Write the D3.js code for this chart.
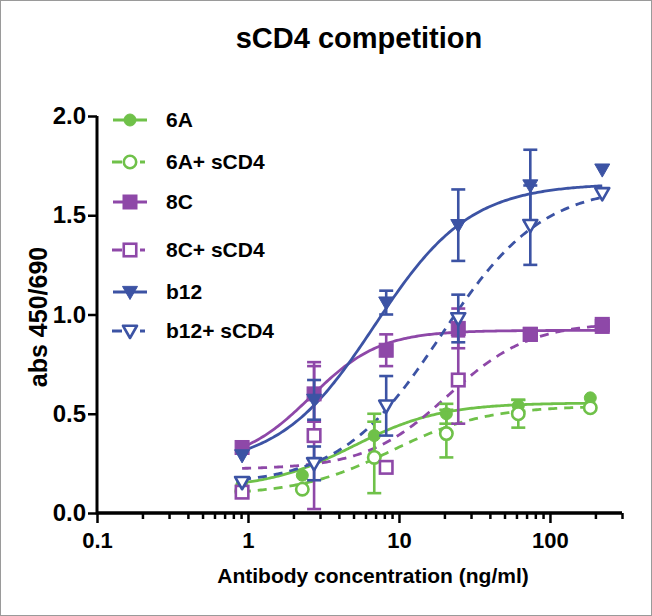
<!DOCTYPE html>
<html><head><meta charset="utf-8">
<script src="https://cdn.jsdelivr.net/npm/d3@7"></script>
<style>body{margin:0;background:#fff}svg{display:block}text{font-family:"Liberation Sans",Arial,sans-serif;font-weight:bold;fill:#000}</style>
</head><body>
<script>
// ---- data ----
const seriesNames = ["6A", "6A+ sCD4", "8C", "8C+ sCD4", "b12", "b12+ sCD4"];
const conc6A = [0.91, 2.29, 6.86, 20.6, 61.7, 185];
const concOther = [0.914, 2.74, 8.23, 24.7, 74.1, 222];
const val6A = [0.14, 0.19, 0.39, 0.50, 0.54, 0.58];
const err6A = [0, 0, 0.11, 0.05, 0.03, 0];
const val6AsCD4 = [0.11, 0.12, 0.28, 0.40, 0.50, 0.53];
const err6AsCD4 = [0, 0, 0.18, 0.12, 0.07, 0];
const val8C = [0.33, 0.60, 0.82, 0.93, 0.90, 0.94];
const err8C = [0, 0.14, 0.08, 0.10, 0, 0];
const val8CsCD4 = [0.105, 0.39, 0.23, 0.67, 0.90, 0.95];
const err8CsCD4 = [0, 0.37, 0, 0.22, 0, 0];
const valB12 = [0.29, 0.57, 1.06, 1.45, 1.65, 1.73];
const errB12 = [0, 0.10, 0.06, 0.18, 0.18, 0];
const valB12sCD4 = [0.155, 0.25, 0.54, 0.98, 1.45, 1.61];
const errB12sCD4 = [0, 0.085, 0.15, 0.12, 0.20, 0];
// fitted 4PL curve parameters
const fitBottom = [0.12, 0.09, 0.25, 0.22, 0.23, 0.14];
const fitTop = [0.555, 0.54, 0.92, 0.96, 1.66, 1.65];
const fitEC50 = [5, 9, 2.6, 21, 6.9, 19];
const fitHill = [1.5, 1.4, 1.9, 1.6, 1.38, 1.3];
const xTickLabels = ["0.1", "1", "10", "100"];
const yTickLabels = ["0.0", "0.5", "1.0", "1.5", "2.0"];

const green = "#6fc149", purple = "#8e48a8", blue = "#3c53a4";
const styles = [
  {color: green, sym: "circle", fill: true, dash: null},
  {color: green, sym: "circle", fill: false, dash: "9,7"},
  {color: purple, sym: "square", fill: true, dash: null},
  {color: purple, sym: "square", fill: false, dash: "9,7"},
  {color: blue, sym: "tri", fill: true, dash: null},
  {color: blue, sym: "tri", fill: false, dash: "9,7"}
];
const series = [
  {x: conc6A, v: val6A, e: err6A},
  {x: conc6A, v: val6AsCD4, e: err6AsCD4},
  {x: concOther, v: val8C, e: err8C},
  {x: concOther, v: val8CsCD4, e: err8CsCD4},
  {x: concOther, v: valB12, e: errB12},
  {x: concOther, v: valB12sCD4, e: errB12sCD4}
];
const drawOrder = [0, 1, 3, 2, 4, 5];

const W = 652, H = 616;
const FONT = '"Liberation Sans",Arial,sans-serif';
const svg = d3.select("body").append("svg").attr("width", W).attr("height", H);
svg.append("rect").attr("x", 0.5).attr("y", 0.5).attr("width", W - 1).attr("height", H - 1)
  .attr("fill", "#fff").attr("stroke", "#9a9a9a");

const x = d3.scaleLog().domain([0.1, 300]).range([97, 622]);
const y = d3.scaleLinear().domain([0, 2]).range([513, 116]);

// title
svg.append("text").attr("x", 359).attr("y", 48).attr("text-anchor", "middle")
  .style("font-size", "29px").text("sCD4 competition");

// axes
const xMajor = [0.1, 1, 10, 100];
const xMinor = [];
[0.1, 1, 10, 100].forEach(d => { for (let k = 2; k <= 9; k++) { const v = d * k; if (v <= 300) xMinor.push(v); } });
const gx = svg.append("g").attr("transform", "translate(0,513)");
gx.call(d3.axisBottom(x).tickValues(xMinor).tickSize(6).tickFormat(""));
const gx2 = svg.append("g").attr("transform", "translate(0,513)");
gx2.call(d3.axisBottom(x).tickValues(xMajor).tickSize(10).tickFormat((d, i) => xTickLabels[i]));
[gx, gx2].forEach(g => {
  g.select(".domain").attr("stroke", "#000").attr("stroke-width", 3).attr("d", "M97,0H622");
  g.selectAll(".tick line").attr("stroke", "#000").attr("stroke-width", 2.5);
});
gx2.selectAll(".tick text").attr("y", 19).attr("dy", "0.71em").style("font-size", "22px")
  .style("font-family", FONT).style("font-weight", "bold");

const gy = svg.append("g").attr("transform", "translate(97,0)");
gy.call(d3.axisLeft(y).tickValues([0, 0.5, 1, 1.5, 2]).tickSize(9).tickFormat((d, i) => yTickLabels[i]));
gy.select(".domain").attr("stroke", "#000").attr("stroke-width", 3).attr("d", "M0,514.5V116");
gy.selectAll(".tick line").attr("stroke", "#000").attr("stroke-width", 2.5);
gy.selectAll(".tick text").attr("x", -11).style("font-size", "24px")
  .style("font-family", FONT).style("font-weight", "bold");

svg.append("text").attr("x", 373).attr("y", 583).attr("text-anchor", "middle")
  .style("font-size", "21px").text("Antibody concentration (ng/ml)");
svg.append("text").attr("transform", "translate(47,317) rotate(-90)").attr("text-anchor", "middle")
  .style("font-size", "25px").text("abs 450/690");

// symbols
function drawSym(g, sym, cx, cy, color, fill) {
  if (sym === "circle") {
    g.append("circle").attr("cx", cx).attr("cy", cy).attr("r", fill ? 6 : 6.2)
      .attr("fill", fill ? color : "#fff").attr("stroke", color).attr("stroke-width", fill ? 1 : 2.6);
  } else if (sym === "square") {
    const s = fill ? 14 : 12.5;
    g.append("rect").attr("x", cx - s / 2).attr("y", cy - s / 2).attr("width", s).attr("height", s)
      .attr("fill", fill ? color : "#fff").attr("stroke", color).attr("stroke-width", fill ? 1 : 2.6);
  } else {
    const s = fill ? 7.5 : 7;
    const p = [[cx - s, cy - s * 0.75], [cx + s, cy - s * 0.75], [cx, cy + s * 1.0]];
    g.append("path").attr("d", "M" + p.join("L") + "Z")
      .attr("fill", fill ? color : "#fff").attr("stroke", color).attr("stroke-width", fill ? 1 : 2.6)
      .attr("stroke-linejoin", "round");
  }
}

// curves
const line = d3.line().x(d => x(d[0])).y(d => y(d[1]));
series.forEach((s, i) => {
  const st = styles[i];
  const lo = d3.min(s.x), hi = d3.max(s.x);
  const pts = d3.range(0, 201).map(k => {
    const c = Math.pow(10, Math.log10(lo) + (Math.log10(hi) - Math.log10(lo)) * k / 200);
    const v = fitBottom[i] + (fitTop[i] - fitBottom[i]) / (1 + Math.pow(fitEC50[i] / c, fitHill[i]));
    return [c, v];
  });
  svg.append("path").attr("d", line(pts)).attr("fill", "none").attr("stroke", st.color)
    .attr("stroke-width", 2.8).attr("stroke-dasharray", st.dash);
});

// error bars and points
drawOrder.forEach(i => {
  const s = series[i];
  const st = styles[i];
  const g = svg.append("g");
  s.x.forEach((c, j) => {
    const e = s.e[j];
    if (e > 0) {
      const cx = x(c);
      g.append("line").attr("x1", cx).attr("x2", cx).attr("y1", y(s.v[j] - e)).attr("y2", y(s.v[j] + e))
        .attr("stroke", st.color).attr("stroke-width", 2.6);
      [s.v[j] - e, s.v[j] + e].forEach(v => g.append("line").attr("x1", cx - 7).attr("x2", cx + 7)
        .attr("y1", y(v)).attr("y2", y(v)).attr("stroke", st.color).attr("stroke-width", 2.6));
    }
  });
  s.x.forEach((c, j) => drawSym(g, st.sym, x(c), y(s.v[j]), st.color, st.fill));
});

// legend
const legendY = [120, 162, 202, 250, 292, 331];
seriesNames.forEach((name, i) => {
  const st = styles[i];
  const g = svg.append("g");
  const ly = legendY[i];
  if (st.dash) {
    g.append("line").attr("x1", 112).attr("x2", 122).attr("y1", ly).attr("y2", ly).attr("stroke", st.color).attr("stroke-width", 3);
    g.append("line").attr("x1", 140).attr("x2", 145).attr("y1", ly).attr("y2", ly).attr("stroke", st.color).attr("stroke-width", 3);
  } else {
    g.append("line").attr("x1", 113).attr("x2", 147).attr("y1", ly).attr("y2", ly).attr("stroke", st.color).attr("stroke-width", 3);
  }
  drawSym(g, st.sym, 130, ly, st.color, st.fill);
  g.append("text").attr("x", 166).attr("y", ly + 7).style("font-size", "21px").text(name);
});
</script>
</body></html>
